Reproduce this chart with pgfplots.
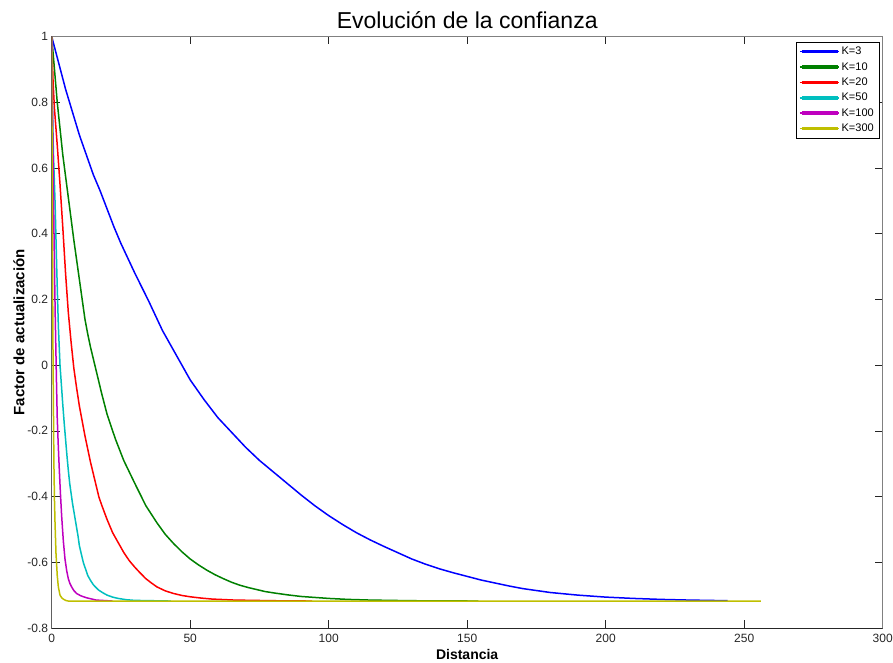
\documentclass[border=0pt]{standalone}
\usepackage{pgfplots}
\pgfplotsset{compat=1.18}
\usetikzlibrary{calc}
\usepackage{fontspec}
\setmainfont{Liberation Sans}
\definecolor{mblue}{RGB}{0,0,255}
\definecolor{mgreen}{RGB}{0,128,0}
\definecolor{mred}{RGB}{255,0,0}
\definecolor{mcyan}{RGB}{0,191,191}
\definecolor{mmag}{RGB}{191,0,191}
\definecolor{myel}{RGB}{191,191,0}
\definecolor{axdark}{RGB}{38,38,38}
\definecolor{axgray}{RGB}{128,128,128}
\pgfplotsset{mylegend/.style={legend image code/.code={\path (0pt,0pt) -- (39pt,0pt); \fill[fill=#1] (3pt,-1pt) rectangle (37pt,1pt);}}}
\begin{document}
\begin{tikzpicture}[x=1pt,y=1pt]
\begin{axis}[
  scale only axis,
  width=831pt, height=591.5pt,
  xmin=0, xmax=300, ymin=-0.8, ymax=1,
  xtick={0,50,100,150,200,250,300},
  ytick={-0.8,-0.6,-0.4,-0.2,0,0.2,0.4,0.6,0.8,1},
  yticklabels={-0.8,-0.6,-0.4,-0.2,0,0.2,0.4,0.6,0.8,1},
  xticklabels={0,50,100,150,200,250,300},
  tick align=inside,
  major tick length=8pt,
  tick style={axdark, line width=0.6pt},
  axis line style={axgray, line width=0.8pt},
  ticklabel style={font=\fontsize{12}{14}\selectfont, text=axdark},
  /pgf/number format/assume math mode=true,
  xticklabel style={yshift=-3pt},
  title={Evolución de la confianza},
  title style={font=\fontsize{23}{26}\selectfont, yshift=-2pt},
  xlabel={\textbf{Distancia}},
  ylabel={\textbf{Factor de actualización}},
  xlabel style={font=\fontsize{14}{16}\selectfont, yshift=1pt},
  ylabel style={font=\fontsize{15}{17}\selectfont, yshift=-4pt},
  legend style={at={(rel axis cs:0.9955,0.991)}, anchor=north east,
    font=\fontsize{11}{13}\selectfont, row sep=2.2pt, inner sep=3pt},
  legend cell align=left,
  every axis plot/.append style={line width=1.5pt},
]
\addplot[draw=mblue, mylegend=mblue] coordinates {
(0,1) (2.5,0.92) (5,0.84) (7.5,0.77) (10,0.70) (12.5,0.64) (15,0.58) (17.5,0.53) (20,0.475) (22.5,0.42) (25,0.37) (27.5,0.325) (30,0.28) (35,0.195) (40,0.105) (45,0.03) (50,-0.045) (55,-0.105) (60,-0.16) (65,-0.205) (70,-0.25) (75,-0.29) (80,-0.325) (85,-0.36) (90,-0.395) (95,-0.428) (100,-0.458) (105,-0.485) (110,-0.51) (115,-0.532) (120,-0.552) (125,-0.571) (130,-0.59) (135,-0.606) (140,-0.62) (145,-0.632) (150,-0.643) (155,-0.654) (160,-0.663) (165,-0.672) (170,-0.68) (175,-0.686) (180,-0.692) (185,-0.696) (190,-0.700) (195,-0.703) (200,-0.706) (210,-0.710) (220,-0.713) (230,-0.715) (244,-0.717)
};
\addlegendentry{K=3}
\addplot[draw=mgreen, mylegend=mgreen] coordinates {
(0,1) (1,0.90) (2,0.80) (3,0.72) (4,0.64) (5,0.575) (6,0.51) (7,0.445) (8,0.38) (9,0.32) (10,0.26) (11,0.2) (12,0.14) (13,0.095) (14,0.055) (16,-0.015) (18,-0.085) (20,-0.15) (23,-0.225) (26,-0.29) (30,-0.36) (34,-0.428) (38,-0.48) (41,-0.515) (44,-0.543) (47,-0.568) (50,-0.59) (53,-0.608) (56,-0.624) (59,-0.638) (62,-0.65) (65,-0.661) (68,-0.670) (71,-0.677) (74,-0.683) (77,-0.689) (80,-0.693) (85,-0.699) (90,-0.704) (95,-0.707) (100,-0.710) (107,-0.713) (115,-0.715) (130,-0.717) (154,-0.718)
};
\addlegendentry{K=10}
\addplot[draw=mred, mylegend=mred] coordinates {
(0,1) (0.5,0.86) (1,0.78) (2,0.67) (3,0.55) (4,0.42) (5,0.28) (6,0.16) (7,0.07) (8,-0.01) (9,-0.07) (10,-0.125) (11,-0.17) (12,-0.215) (13,-0.255) (14,-0.295) (15,-0.33) (16,-0.365) (17,-0.40) (18,-0.425) (20,-0.47) (22,-0.51) (24,-0.54) (26,-0.57) (28,-0.595) (30,-0.615) (32,-0.633) (34,-0.65) (36,-0.663) (38,-0.675) (41,-0.687) (44,-0.695) (47,-0.701) (50,-0.705) (54,-0.709) (58,-0.712) (66,-0.715) (80,-0.717) (94,-0.718)
};
\addlegendentry{K=20}
\addplot[draw=mcyan, mylegend=mcyan] coordinates {
(0,1) (0.3,0.78) (0.6,0.65) (1.2,0.50) (1.8,0.3) (2.4,0.12) (3,0.0) (3.5,-0.06) (4,-0.12) (4.5,-0.175) (5,-0.225) (5.5,-0.275) (6,-0.32) (6.5,-0.36) (7,-0.39) (7.5,-0.42) (8,-0.445) (8.5,-0.47) (9,-0.495) (9.5,-0.52) (10,-0.55) (10.7,-0.575) (11.4,-0.60) (12.2,-0.62) (13,-0.64) (14,-0.655) (15,-0.668) (16,-0.677) (17,-0.685) (18.5,-0.693) (20,-0.70) (22,-0.706) (24,-0.71) (27,-0.714) (30,-0.716) (43,-0.718)
};
\addlegendentry{K=50}
\addplot[draw=mmag, mylegend=mmag] coordinates {
(0,1) (0.25,0.80) (0.5,0.62) (0.75,0.45) (1,0.3) (1.25,0.16) (1.5,0.05) (1.75,-0.06) (2,-0.16) (2.35,-0.24) (2.7,-0.31) (3.15,-0.39) (3.6,-0.46) (4.2,-0.535) (4.8,-0.59) (5.4,-0.625) (6,-0.65) (6.6,-0.665) (7.2,-0.675) (8,-0.686) (9,-0.695) (10.5,-0.702) (12.6,-0.708) (16,-0.715) (22,-0.718)
};
\addlegendentry{K=100}
\addplot[draw=myel, mylegend=myel] coordinates {
(0,1) (0.15,0.62) (0.3,0.3) (0.45,0.07) (0.6,-0.107) (0.8,-0.3) (1,-0.41) (1.2,-0.48) (1.55,-0.573) (2,-0.64) (2.4,-0.675) (3,-0.70) (3.6,-0.708) (4.2,-0.712) (5,-0.716) (6,-0.718) (100,-0.718) (256,-0.718)
};
\addlegendentry{K=300}
\draw[axdark, line width=0.8pt] (rel axis cs:0,1) -- (rel axis cs:0,0) -- (rel axis cs:1,0);
\end{axis}
\pgfresetboundingbox
\path[use as bounding box] ($(current axis.south west)+(-51.7pt,-35pt)$) rectangle ($(current axis.north east)+(10.3pt,36.5pt)$);
\end{tikzpicture}
\end{document}
